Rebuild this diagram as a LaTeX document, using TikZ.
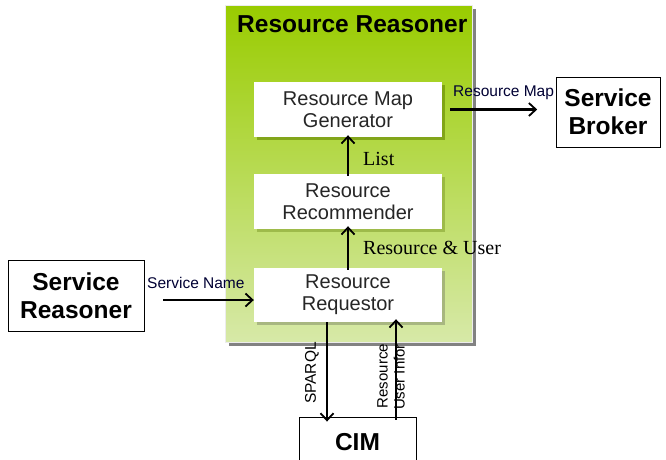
\documentclass[tikz,border=0pt]{standalone}
\usepackage{fontspec}
\setmainfont{Liberation Sans}
\newfontfamily\seriffont{Liberation Serif}
\usetikzlibrary{arrows.meta}
\definecolor{gtop}{RGB}{153,204,0}
\definecolor{gbot}{RGB}{215,233,168}
\definecolor{shad}{RGB}{130,130,130}
\tikzset{
  inbox/.style={fill=white, minimum width=188pt, minimum height=55pt, inner sep=0pt, align=center,
    font=\fontsize{20}{22}\selectfont, text=black!85},
  outbox/.style={draw=black, line width=0.9pt, fill=white, inner sep=0pt, align=center,
    font=\fontsize{24.5}{28}\selectfont\bfseries},
  conn/.style={-{Straight Barb[length=7pt,width=13pt,line width=1.8pt]}, line width=2.2pt},
  lab/.style={font=\fontsize{15.5}{16}\selectfont, inner sep=0pt, text=black!80!blue},
  slab/.style={font=\seriffont\fontsize{20}{22}\selectfont, inner sep=0pt},
}
\begin{document}
\begin{tikzpicture}[x=1pt,y=-1pt]
\useasboundingbox (0,0) rectangle (666,459);
% shadow of green box
\fill[shad] (229,9) rectangle (476,346);
\shade[top color=gtop, bottom color=gbot] (225,5) rectangle (472,342);
\draw[white!85!gray, line width=0.6pt] (225,5) rectangle (472,342);
\node[font=\fontsize{24.5}{26}\selectfont\bfseries, anchor=north west, inner sep=0pt] (title) at (237,15) {Resource Reasoner};
% inner box shadows
\fill[black!35!gtop, opacity=0.6] (257,85) rectangle (445,140);
\fill[black!35!gtop!70!gbot, opacity=0.6] (257,177) rectangle (445,232);
\fill[black!35!gbot, opacity=0.6] (257,271) rectangle (445,325);
\node[inbox] (gen) at (348,109.5) {Resource Map\\Generator};
\node[inbox] (rec) at (348,201.5) {Resource\\Recommender};
\node[inbox, minimum height=54pt] (req) at (348,295) {Resource\\Requestor};
% outer boxes
\node[outbox, minimum width=136pt, minimum height=71pt] (sr) at (76,295.5) {Service\\Reasoner};
\node[outbox, minimum width=104pt, minimum height=70pt] (sb) at (608,112) {Service\\Broker};
\node[outbox, minimum width=117pt, minimum height=50pt] (cim) at (357.5,442) {CIM};
% connectors
\draw[conn] (sr.east |- 0,300) ++(19,0) coordinate (s1) -- (req.west |- s1);
\node[lab, anchor=south west] at (147,289) {Service Name};
\draw[conn] ([xshift=8pt]gen.east) -- ++(87,0) coordinate (g1);
\node[lab, anchor=south west] at (453,100) {Resource Map};
\draw[conn] ([yshift=-2pt]rec.north) -- ([yshift=2pt]gen.south);
\node[slab, anchor=west] at (363,159) {List};
\draw[conn] ([yshift=-2pt]req.north) -- ([yshift=3pt]rec.south);
\node[slab, anchor=west] at (363,248) {Resource \& User};
\draw[conn] (req.south -| 327,0) -- ([yshift=-5pt]cim.north -| 327,0);
\node[lab, rotate=90, text=black] at (312,373) {SPARQL};
\draw[conn] ([yshift=-3pt]cim.north -| 396,0) -- ([yshift=3pt]req.south -| 396,0);
\node[lab, rotate=90, align=right, text=black, font=\fontsize{15}{17}\selectfont] at (391,377) {Resource\\User Infor};
\end{tikzpicture}
\end{document}
